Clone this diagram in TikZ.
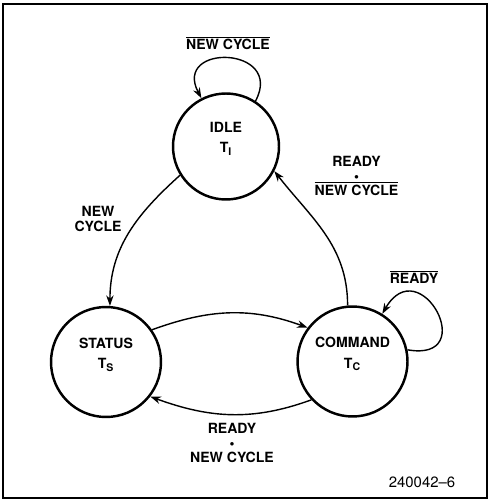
\documentclass[tikz,border=0pt]{standalone}
\usepackage{fontspec}
\setmainfont{TeX Gyre Heros}
\usepackage{tikz}
\usetikzlibrary{arrows.meta}

\newcommand{\ovl}[1]{$\overline{\hbox{#1}}$}

\begin{document}
\begin{tikzpicture}[x=0.02cm, y=0.02cm, font=\fontsize{8}{8}\selectfont\bfseries,
        state/.style={circle, draw, line width=1.4pt, minimum size=#1, inner sep=0pt, align=center},
        tr/.style={-{Stealth[length=6pt,width=4.2pt]}, line width=0.8pt},
        lbl/.style={align=center, inner sep=0pt}]
      \useasboundingbox (0,0) rectangle (490,-502);
      \draw[line width=1pt] (3,-4) rectangle (487,-498);

      % states
      \node[state=2.12cm] (idle) at (226,-146.5) {IDLE\\[3.5pt]T\textsubscript{I}\\[2pt]\mbox{}};
      \node[state=2.2cm] (status) at (106,-362) {STATUS\\[3.5pt]T\textsubscript{S}\\[2pt]\mbox{}};
      \node[state=2.2cm] (command) at (352.5,-361.5) {COMMAND\\[3.5pt]T\textsubscript{C}\\[2pt]\mbox{}};

      % transitions
      \draw[tr] (idle.57) .. controls +(62:1.25cm) and +(118:1.25cm) .. (idle.117);
      \draw[tr] (idle.212) to[out=222, in=90] (status.86);
      \draw[tr] (command.95) to[out=90, in=-52] (idle.-27);
      \draw[tr] (status.35) to[out=20, in=160] (command.143);
      \draw[tr] (command.223) to[out=200, in=-20] (status.-38);
      \draw[tr] (command.12) .. controls +(-10:1.5cm) and +(60:1.5cm) .. (command.58);

      % conditions
      \node[lbl] (nc-loop) at (228,-43) {\ovl{NEW CYCLE}};
      \node[lbl] (nc) at (98,-219) {NEW\\[1pt]CYCLE};
      \node[lbl] (rd-nc) at (356.5,-176) {READY\\[0pt]\textbullet\\[0pt]\ovl{NEW CYCLE}};
      \node[lbl] (rd-loop) at (414,-277) {\ovl{READY}};
      \node[lbl] (rd-and-nc) at (232,-443) {READY\\[0pt]\textbullet\\[0pt]NEW CYCLE};
      \node[lbl, font=\fontsize{8.5}{9}\selectfont] (fig) at (422,-482) {240042--6};
    \end{tikzpicture}
\end{document}
